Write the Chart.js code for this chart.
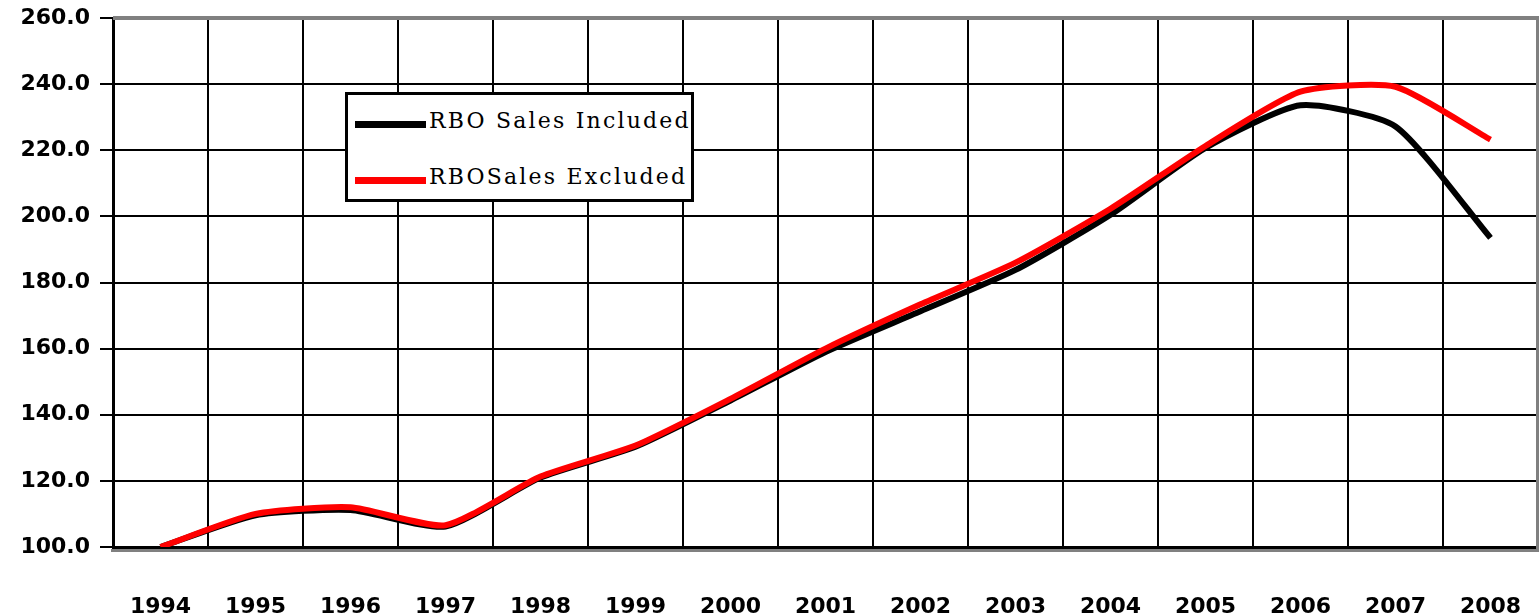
<!DOCTYPE html>
<html>
<head>
<meta charset="utf-8">
<script src="https://cdn.jsdelivr.net/npm/chart.js@4"></script>
<style>
  html, body { margin: 0; padding: 0; background: #fff; overflow: hidden; }
  #wrap { position: relative; width: 1539px; height: 615px; }
  #chart { display: block; }
  #legend {
    position: absolute; left: 345px; top: 92px; width: 343px; height: 104px;
    border: 3px solid #000; background: #fff;
    font-family: "DejaVu Serif", serif; font-size: 22px; color: #000;
  }
  #legend .item { position: absolute; left: 0; height: 30px; width: 100%; }
  #legend .swatch { position: absolute; left: 7px; top: 12px; width: 71px; height: 7px; }
  #legend .label { position: absolute; left: 81px; top: -1px; white-space: nowrap; letter-spacing: 2.2px; }
</style>
</head>
<body>
<div id="wrap">
  <canvas id="chart" width="1539" height="615"></canvas>
  <div id="legend"></div>
</div>
<script>
  // Index values
  const years = ['1994', '1995', '1996', '1997', '1998', '1999', '2000', '2001',
                 '2002', '2003', '2004', '2005', '2006', '2007', '2008'];
  const rboIncluded = [100, 109.6, 111.2, 106.2, 121.0, 130.3, 144.3, 159.0,
                       171.3, 183.8, 200.5, 220.7, 233.6, 227.2, 193.5];
  const rboExcluded = [100, 110.0, 112.0, 106.6, 121.3, 130.7, 144.8, 160.0,
                       173.4, 186.0, 202.3, 221.3, 237.7, 239.2, 223.2];
  const yTicks = [100, 120, 140, 160, 180, 200, 220, 240, 260];

  const GRAY = '#808080';

  // gray top/right frame and the shadow under the x axis
  const plotFrame = {
    id: 'plotFrame',
    beforeDatasetsDraw(chart) {
      const { ctx, chartArea: a } = chart;
      ctx.save();
      ctx.fillStyle = GRAY;
      ctx.fillRect(a.left, a.top - 2, a.right - a.left + 1, 4);
      ctx.fillRect(a.right - 2, a.top - 2, 3, a.bottom - a.top + 6);
      ctx.fillRect(a.left - 2, a.bottom + 2, a.right - a.left + 3, 3);
      ctx.restore();
    },
  };

  // legend built from the datasets, in a framed box over the plot
  const htmlLegend = {
    id: 'htmlLegend',
    afterUpdate(chart) {
      const box = document.getElementById('legend');
      const tops = [14, 70];
      box.innerHTML = chart.data.datasets.map((ds, i) =>
        `<div class="item" style="top:${tops[i]}px">
           <div class="swatch" style="background:${ds.borderColor}"></div>
           <span class="label">${ds.label}</span>
         </div>`).join('');
    },
  };

  new Chart(document.getElementById('chart'), {
    type: 'line',
    data: {
      labels: years,
      datasets: [
        {
          label: 'RBO Sales Included',
          data: rboIncluded,
          borderColor: '#000000',
          borderWidth: 6,
          pointRadius: 0,
          tension: 0.2,
          order: 2,
        },
        {
          label: 'RBOSales Excluded',
          data: rboExcluded,
          borderColor: '#ff0000',
          borderWidth: 6,
          pointRadius: 0,
          tension: 0.2,
          order: 1,
        },
      ],
    },
    options: {
      responsive: false,
      animation: false,
      layout: { padding: { top: 18, right: 1, bottom: 0, left: 0 } },
      plugins: {
        legend: { display: false },
        tooltip: { enabled: false },
      },
      scales: {
        x: {
          offset: true,
          afterFit: s => { s.height = 68; s.paddingLeft = 0; s.paddingRight = 0; },
          grid: { offset: true, color: '#000', lineWidth: 2, drawTicks: false },
          border: { color: '#000', width: 3 },
          ticks: {
            color: '#000',
            padding: 47,
            maxRotation: 0,
            font: { family: 'DejaVu Sans', size: 22, weight: 'bold' },
          },
        },
        y: {
          min: 100,
          max: 260,
          afterFit: s => { s.width = 113; s.paddingTop = 0; s.paddingBottom = 0; },
          afterBuildTicks: s => { s.ticks = yTicks.map(v => ({ value: v })); },
          grid: { color: '#000', lineWidth: 2, tickLength: 13, tickColor: '#000' },
          border: { color: '#000', width: 3 },
          ticks: {
            color: '#000',
            padding: 10,
            callback: v => v.toFixed(1),
            font: { family: 'DejaVu Sans', size: 22, weight: 'bold' },
          },
        },
      },
    },
    plugins: [plotFrame, htmlLegend],
  });
</script>
</body>
</html>
